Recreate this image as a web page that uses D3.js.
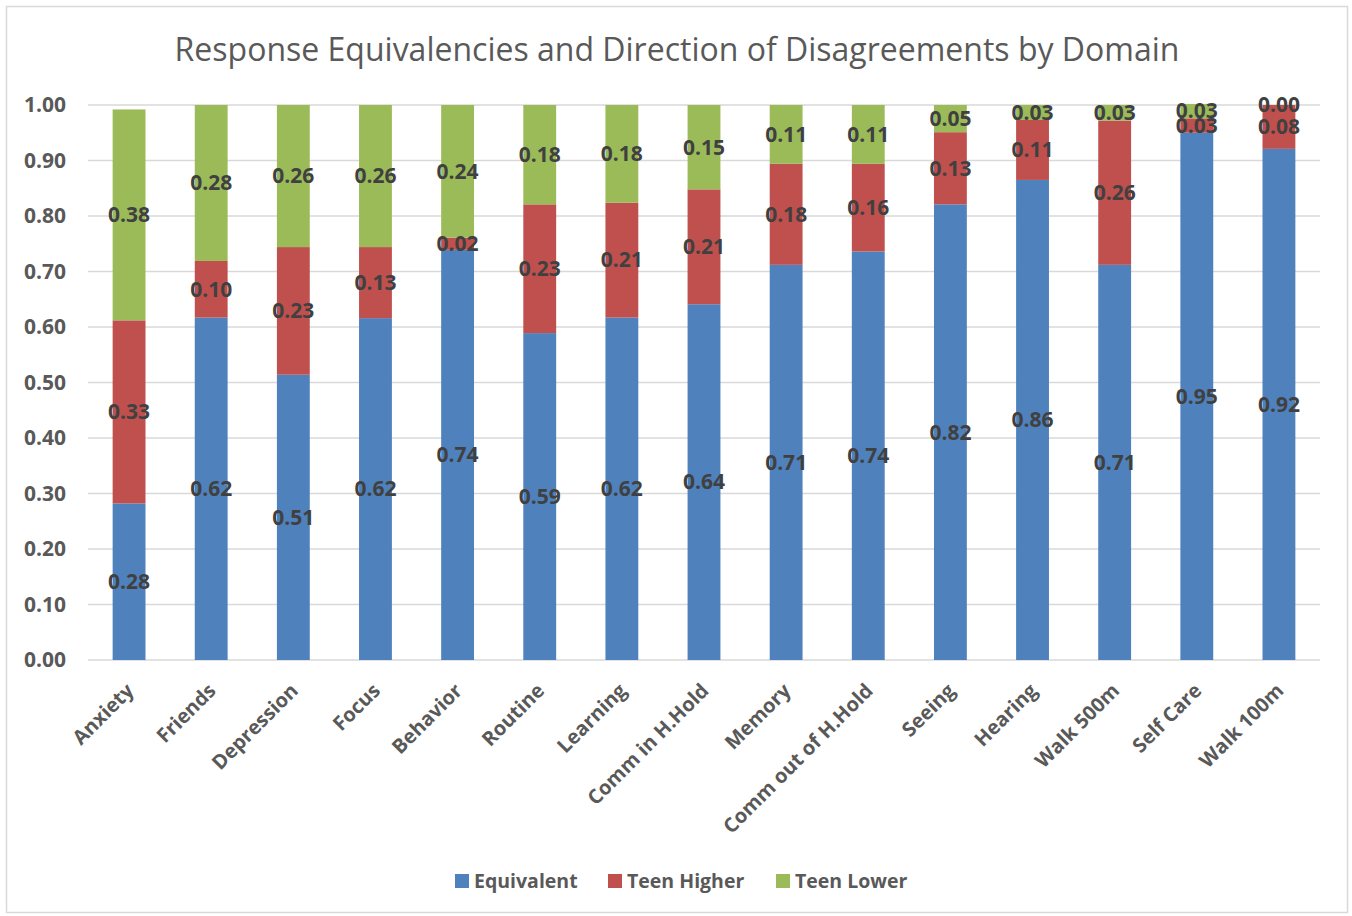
<!DOCTYPE html>
<meta charset="utf-8">
<title>Response Equivalencies and Direction of Disagreements by Domain</title>
<style>
  body { margin: 0; background: #fff; font-family: 'Open Sans', sans-serif; }
  svg { display: block; }
</style>
<body>
<div id="chart"></div>
<script src="https://d3js.org/d3.v7.min.js"></script>
<script>
// data
const domains = ["Anxiety", "Friends", "Depression", "Focus", "Behavior", "Routine", "Learning",
  "Comm in H.Hold", "Memory", "Comm out of H.Hold", "Seeing", "Hearing", "Walk 500m", "Self Care", "Walk 100m"];
const equivalent = [0.282, 0.617, 0.514, 0.616, 0.739, 0.589, 0.617, 0.641, 0.712, 0.736, 0.821, 0.865, 0.712, 0.95, 0.921];
const teenHigher = [0.33, 0.102, 0.23, 0.128, 0.022, 0.232, 0.207, 0.207, 0.182, 0.158, 0.13, 0.108, 0.26, 0.026, 0.079];
const teenLower  = [0.38, 0.281, 0.256, 0.256, 0.239, 0.179, 0.176, 0.152, 0.106, 0.106, 0.049, 0.027, 0.028, 0.026, 0.0];
const seriesNames = ["Equivalent", "Teen Higher", "Teen Lower"];
const yTicks = [0, 0.1, 0.2, 0.3, 0.4, 0.5, 0.6, 0.7, 0.8, 0.9, 1.0];

const colors = ["#4F81BD", "#C0504D", "#9BBB59"];
const W = 1352, H = 916;
const plot = {left: 88, right: 1320, top: 105, bottom: 660};

const svg = d3.select("#chart").append("svg")
  .attr("width", W).attr("height", H);

// chart border
svg.append("rect")
  .attr("x", 6.5).attr("y", 6.5).attr("width", 1341).attr("height", 906)
  .attr("fill", "#fff").attr("stroke", "#d9d9d9").attr("stroke-width", 1.5);

svg.append("text")
  .attr("x", 677).attr("y", 61)
  .attr("text-anchor", "middle")
  .style("font-size", "32px").style("fill", "#595959")
  .text("Response Equivalencies and Direction of Disagreements by Domain");

const x = d3.scaleBand().domain(domains).range([plot.left, plot.right]).paddingInner(0.6).paddingOuter(0.3);
const y = d3.scaleLinear().domain([0, 1]).range([plot.bottom, plot.top]);

// gridlines
svg.append("g").selectAll("line")
  .data(yTicks).join("line")
  .attr("x1", plot.left).attr("x2", plot.right)
  .attr("y1", d => y(d)).attr("y2", d => y(d))
  .attr("stroke", "#d9d9d9").attr("stroke-width", 1.5);

// y axis labels
const yAxis = svg.append("g")
  .attr("transform", "translate(" + plot.left + ",0)")
  .call(d3.axisLeft(y).tickValues(yTicks).tickFormat(d3.format(".2f")).tickSize(0).tickPadding(22));
yAxis.select(".domain").remove();
yAxis.selectAll("text")
  .style("font-family", "'Open Sans', sans-serif")
  .style("font-size", "21px").style("font-weight", "bold").style("fill", "#595959");

// stack the data
const rows = domains.map((d, i) => ({domain: d, Equivalent: equivalent[i], "Teen Higher": teenHigher[i], "Teen Lower": teenLower[i]}));
const stacked = d3.stack().keys(seriesNames)(rows);

const layers = svg.append("g").selectAll("g")
  .data(stacked).join("g")
  .attr("fill", (d, i) => colors[i]);

layers.selectAll("rect")
  .data(d => d).join("rect")
  .attr("x", d => x(d.data.domain))
  .attr("width", x.bandwidth())
  .attr("y", d => y(d[1]))
  .attr("height", d => y(d[0]) - y(d[1]));

// data labels
const labels = svg.append("g");
stacked.forEach(layer => {
  labels.selectAll(null)
    .data(layer).join("text")
    .attr("x", d => x(d.data.domain) + x.bandwidth() / 2)
    .attr("y", d => y((d[0] + d[1]) / 2))
    .attr("dy", "0.35em")
    .attr("text-anchor", "middle")
    .style("font-size", "21px").style("font-weight", "bold").style("fill", "#404040")
    .text(d => d3.format(".2f")(d[1] - d[0]));
});

// x axis labels
svg.append("g").selectAll("text")
  .data(domains).join("text")
  .attr("transform", d => "translate(" + (x(d) + x.bandwidth() / 2 + 1) + "," + (plot.bottom + 27) + ") rotate(-45)")
  .attr("text-anchor", "end")
  .attr("dy", "0.35em")
  .style("font-size", "20px").style("font-weight", "bold").style("fill", "#595959")
  .text(d => d);

// legend
const legendX = [455, 608, 776];
const legend = svg.append("g").selectAll("g")
  .data(seriesNames).join("g")
  .attr("transform", (d, i) => "translate(" + legendX[i] + ",874)");
legend.append("rect")
  .attr("width", 14).attr("height", 14)
  .attr("fill", (d, i) => colors[i]);
legend.append("text")
  .attr("x", 19).attr("y", 7).attr("dy", "0.35em")
  .style("font-size", "19.5px").style("font-weight", "bold").style("fill", "#595959")
  .text(d => d);
</script>
</body>
